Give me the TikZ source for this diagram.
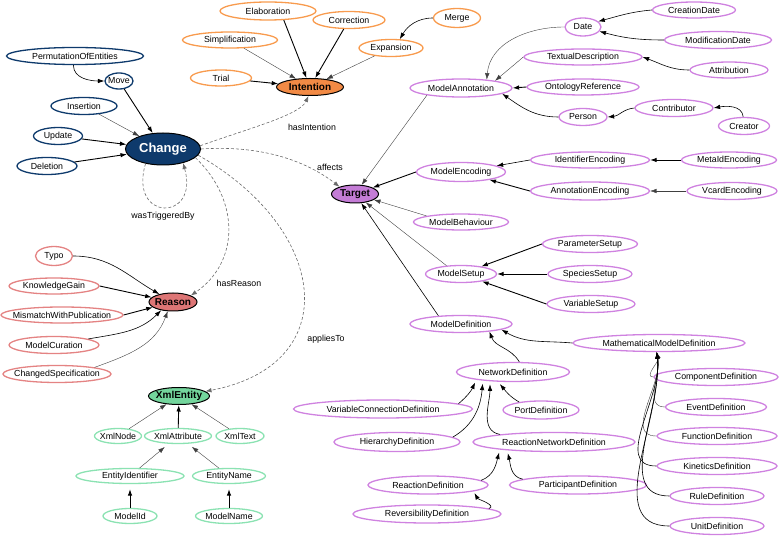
\documentclass[tikz,border=0pt]{standalone}
\usepackage{fontspec}
\setmainfont{Liberation Sans}
\usetikzlibrary{shapes.geometric,arrows.meta}
\definecolor{cblue}{HTML}{0E3A6C}
\definecolor{corange}{HTML}{F89B4E}
\definecolor{corangef}{HTML}{F28A45}
\definecolor{cpurple}{HTML}{CF82E0}
\definecolor{cpurplef}{HTML}{C47CD6}
\definecolor{cred}{HTML}{E48383}
\definecolor{credf}{HTML}{DD7575}
\definecolor{cgreen}{HTML}{8BE2B2}
\definecolor{cgreenf}{HTML}{73D59C}
\definecolor{cdash}{HTML}{6A6A6A}
\newcommand{\lblfont}{\fontsize{8.8}{10}\selectfont}
\newcommand{\hubfont}{\fontsize{10}{12}\selectfont\bfseries}
\begin{document}
\begin{tikzpicture}[x=1pt,y=1pt,
  sz/.style n args={2}{minimum width=#1pt, minimum height=#2pt},
  el/.style={ellipse, inner xsep=-30pt, inner ysep=-4pt, line width=1.3pt, font=\lblfont, text=black},
  chb/.style={el, draw=cblue},
  orb/.style={el, draw=corange},
  pub/.style={el, draw=cpurple},
  reb/.style={el, draw=cred},
  grb/.style={el, draw=cgreen},
  hub/.style={el, draw=black, line width=1pt, font=\hubfont},
  lab/.style={font=\lblfont, inner sep=0pt},
  tk/.style={-{Latex[length=6.5pt,width=4.5pt]}, line width=0.9pt},
  md/.style={-{Latex[length=6.5pt,width=4.5pt]}, line width=0.6pt},
  tn/.style={-{Latex[length=6.5pt,width=4.5pt]}, line width=0.4pt, draw=black!75},
  ds/.style={-{Latex[length=6pt,width=4.5pt]}, line width=0.6pt, draw=cdash, dash pattern=on 3pt off 2pt}
]
\useasboundingbox (0,0) rectangle (780,-537);

% ---------------- Change group
\node[chb, sz={137}{17}] (perm) at (75,-56) {PermutationOfEntities};
\node[chb, sz={28}{16}] (move) at (119,-81) {Move};
\node[chb, sz={66}{17}] (ins) at (84,-106) {Insertion};
\node[chb, sz={49}{17}] (upd) at (58,-136) {Update};
\node[chb, sz={60}{17}] (del) at (47,-166) {Deletion};
\node[el, draw=black, line width=1pt, fill=cblue, text=white, font=\fontsize{13}{15}\selectfont\bfseries, sz={75}{32}] (change) at (163,-149) {Change};

% ---------------- Intention group
\node[orb, sz={96}{18}] (elab) at (268,-11) {Elaboration};
\node[orb, sz={72}{17}] (corr) at (349,-20) {Correction};
\node[orb, sz={95}{16}] (simp) at (230,-40) {Simplification};
\node[orb, sz={64}{17}] (exp) at (391,-48) {Expansion};
\node[orb, sz={61}{16}] (trial) at (221,-78) {Trial};
\node[orb, sz={47}{19}] (merge) at (457,-18) {Merge};
\node[hub, fill=corangef, sz={67}{17}] (int) at (310,-87) {Intention};

% ---------------- Target group
\node[pub, sz={36}{18}] (date) at (583,-27) {Date};
\node[pub, sz={83}{16}] (cdate) at (694,-10) {CreationDate};
\node[pub, sz={107}{17}] (mdate) at (718,-40) {ModificationDate};
\node[pub, sz={118}{16}] (td) at (583,-57) {TextualDescription};
\node[pub, sz={78}{16}] (attr) at (729,-70) {Attribution};
\node[pub, sz={102}{18}] (ma) at (461,-88) {ModelAnnotation};
\node[pub, sz={112}{16}] (onto) at (583,-87) {OntologyReference};
\node[pub, sz={78}{17}] (contrib) at (674,-108) {Contributor};
\node[pub, sz={48}{17}] (person) at (583,-117) {Person};
\node[pub, sz={51}{17}] (creator) at (744,-126) {Creator};
\node[hub, fill=cpurplef, sz={47}{18}] (target) at (355,-194) {Target};
\node[pub, sz={89}{19}] (menc) at (461,-172) {ModelEncoding};
\node[pub, sz={119}{16}] (idenc) at (590,-160) {IdentifierEncoding};
\node[pub, sz={95}{16}] (metaid) at (729,-160) {MetaIdEncoding};
\node[pub, sz={119}{18}] (annenc) at (590,-191) {AnnotationEncoding};
\node[pub, sz={90}{17}] (vcard) at (732,-191) {VcardEncoding};
\node[pub, sz={95}{16}] (mbeh) at (461,-222) {ModelBehaviour};
\node[pub, sz={95}{17}] (pset) at (590,-244) {ParameterSetup};
\node[pub, sz={71}{17}] (msetup) at (461,-274) {ModelSetup};
\node[pub, sz={84}{17}] (sset) at (590,-274) {SpeciesSetup};
\node[pub, sz={88}{17}] (vset) at (591,-304) {VariableSetup};
\node[pub, sz={102}{17}] (mdef) at (461,-324) {ModelDefinition};
\node[pub, sz={172}{17}] (mmd) at (659,-343) {MathematicalModelDefinition};
\node[pub, sz={113}{19}] (netdef) at (513,-372) {NetworkDefinition};
\node[pub, sz={179}{18}] (vcd) at (383,-409) {VariableConnectionDefinition};
\node[pub, sz={76}{18}] (port) at (541,-410) {PortDefinition};
\node[pub, sz={126}{19}] (hier) at (397,-442) {HierarchyDefinition};
\node[pub, sz={162}{19}] (rnd) at (554,-442) {ReactionNetworkDefinition};
\node[pub, sz={120}{18}] (rdef) at (428,-485) {ReactionDefinition};
\node[pub, sz={137}{18}] (part) at (578,-485) {ParticipantDefinition};
\node[pub, sz={148}{18}] (rev) at (427,-514) {ReversibilityDefinition};
\node[pub, sz={124}{17}] (comp) at (716,-377) {ComponentDefinition};
\node[pub, sz={101}{17}] (event) at (716,-407) {EventDefinition};
\node[pub, sz={120}{17}] (func) at (717,-436) {FunctionDefinition};
\node[pub, sz={120}{17}] (kin) at (717,-466) {KineticsDefinition};
\node[pub, sz={94}{17}] (rule) at (717,-496) {RuleDefinition};
\node[pub, sz={94}{17}] (unit) at (717,-526) {UnitDefinition};

% ---------------- Reason group
\node[reb, sz={37}{19}] (typo) at (54,-256) {Typo};
\node[reb, sz={90}{16}] (kg) at (54,-286) {KnowledgeGain};
\node[reb, sz={122}{16}] (mwp) at (62,-315) {MismatchWithPublication};
\node[reb, sz={90}{17}] (mc) at (54,-345) {ModelCuration};
\node[reb, sz={108}{17}] (cs) at (57,-374) {ChangedSpecification};
\node[hub, fill=credf, sz={48}{18}] (reason) at (173,-302) {Reason};

% ---------------- XmlEntity group
\node[hub, fill=cgreenf, sz={61}{17}] (xml) at (179,-396) {XmlEntity};
\node[grb, sz={47}{15}] (xnode) at (118,-436) {XmlNode};
\node[grb, sz={67}{15}] (xattr) at (178,-436) {XmlAttribute};
\node[grb, sz={48}{15}] (xtext) at (240,-436) {XmlText};
\node[grb, sz={108}{15}] (eid) at (130,-476) {EntityIdentifier};
\node[grb, sz={73}{15}] (ename) at (229,-476) {EntityName};
\node[grb, sz={54}{15}] (mid) at (130,-516) {ModelId};
\node[grb, sz={67}{15}] (mname) at (229,-516) {ModelName};

% ---------------- edge labels
\node[lab] (lint) at (312,-127) {hasIntention};
\node[lab] (laff) at (330,-167) {affects};
\node[lab] (ltrig) at (163,-216) {wasTriggeredBy};
\node[lab] (lreas) at (239,-283) {hasReason};
\node[lab] (lapp) at (326,-339) {appliesTo};

% ---------------- dashed relations
\draw[ds] (change.5) .. controls (250,-128) and (300,-115) .. (int.-100);
\draw[ds] (change.0) .. controls (260,-145) and (305,-160) .. (target.155);
\draw[ds] (change.-140) .. controls (128,-222) and (200,-222) .. (change.-35);
\draw[ds] (change.-15) .. controls (240,-200) and (240,-262) .. (reason.20);
\draw[ds] (change.-10) .. controls (330,-230) and (345,-365) .. (xml.10);

% ---------------- Change edges
\draw[md] (perm.-100) to[out=-90,in=180] (move);
\draw[tk] (move) -- (change);
\draw[tn] (ins) -- (change);
\draw[tk] (upd) -- (change);
\draw[tk] (del) -- (change);

% ---------------- Intention edges
\draw[tk] (elab.-30) -- (int);
\draw[tk] (corr) -- (int);
\draw[tn] (simp) -- (int);
\draw[tn] (exp) -- (int);
\draw[tk] (trial) -- (int);
\draw[md] (merge.west) to[out=180,in=60] (exp.45);

% ---------------- Target edges
\draw[tn] (date.west) to[out=180,in=85] (ma.18);
\draw[md] (cdate.west) to[out=185,in=15] (date.20);
\draw[md] (mdate.west) to[out=180,in=-15] (date.-15);
\draw[tn] (td.west) -- (ma.12);
\draw[md] (attr.west) to[out=180,in=-20] (td.east);
\draw[tk] (onto.west) -- (ma.east);
\draw[md] (person.west) to[out=180,in=-35] (ma.-8);
\draw[md] (contrib.west) to[out=185,in=5] (person.east);
\draw[md] (creator.95) to[out=95,in=10] (contrib.east);
\draw[tn] (ma.-168) -- (target);
\draw[tk] (menc.west) -- (target);
\draw[md] (idenc.west) -- (menc);
\draw[tk] (annenc.west) -- (menc);
\draw[tk] (metaid) -- (idenc);
\draw[tn] (vcard) -- (annenc);
\draw[tn] (mbeh.170) -- (target);
\draw[tn] (msetup.150) -- (target);
\draw[md] (mdef.160) -- (target);
\draw[tk] (pset.west) -- (msetup);
\draw[tk] (sset) -- (msetup);
\draw[tk] (vset.west) -- (msetup);
\draw[md] (mmd.west) to[out=175,in=-30] (mdef.-8);
\draw[md] (netdef.58) to[out=120,in=-70] (mdef.-15);
\draw[md, shorten >=3pt] (vcd.4) to[out=40,in=-115] (netdef.-168);
\draw[md, shorten >=3pt] (hier.5) to[out=30,in=-95] (netdef.-164);
\draw[md, shorten >=3pt] (rnd.172) to[out=170,in=-90] (netdef.-158);
\draw[md, shorten >=3pt] (port.160) to[out=150,in=-50] (netdef.-147);
\draw[md, shorten >=3pt] (rdef.5) to[out=20,in=-105] (rnd.-172);
\draw[md, shorten >=3pt] (part.174) to[out=170,in=-75] (rnd.-170);
\draw[md, shorten >=2pt] (rev.5) to[out=20,in=-60] (rdef.-8);
\draw[tn] (comp.west) to[out=180,in=-75] (mmd.-104);
\draw[tn] (event.west) to[out=180,in=-78] (mmd.-104);
\draw[tn] (func.west) to[out=180,in=-80] (mmd.-104);
\draw[md] (kin.west) to[out=180,in=-82] (mmd.-104);
\draw[md] (rule.west) to[out=180,in=-84] (mmd.-104);
\draw[md] (unit.west) to[out=180,in=-85] (mmd.-104);

% ---------------- Reason edges
\draw[md] (typo.east) to[out=0,in=150] (reason.150);
\draw[tk] (kg.east) -- (reason);
\draw[tk] (mwp.east) -- (reason);
\draw[md] (mc.10) to[out=10,in=-135] (reason.-145);
\draw[tn] (cs.10) to[out=20,in=-110] (reason.-120);

% ---------------- XmlEntity edges
\draw[tn] (xnode) -- (xml);
\draw[tk] (xattr) -- (xml);
\draw[tn] (xtext) -- (xml);
\draw[tn, shorten >=5pt] (eid) -- (xattr);
\draw[tn, shorten >=5pt] (ename) -- (xattr);
\draw[tk, shorten >=5pt] (mid) -- (eid);
\draw[tk, shorten >=5pt] (mname) -- (ename);
\end{tikzpicture}
\end{document}
